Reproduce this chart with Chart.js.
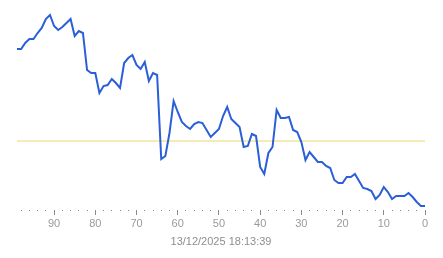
<!DOCTYPE html>
<html>
<head>
<meta charset="utf-8">
<script src="https://cdn.jsdelivr.net/npm/chart.js@4/dist/chart.umd.min.js"></script>
<style>
  body { margin: 0; background: #fff; }
</style>
</head>
<body>
<canvas id="chart" width="443" height="258"></canvas>
<script>
// seconds ago, oldest first
const seconds = [99, 98, 97, 96, 95, 94, 93, 92, 91, 90,
  89, 88, 87, 86, 85, 84, 83, 82, 81, 80,
  79, 78, 77, 76, 75, 74, 73, 72, 71, 70,
  69, 68, 67, 66, 65, 64, 63, 62, 61, 60,
  59, 58, 57, 56, 55, 54, 53, 52, 51, 50,
  49, 48, 47, 46, 45, 44, 43, 42, 41, 40,
  39, 38, 37, 36, 35, 34, 33, 32, 31, 30,
  29, 28, 27, 26, 25, 24, 23, 22, 21, 20,
  19, 18, 17, 16, 15, 14, 13, 12, 11, 10,
  9, 8, 7, 6, 5, 4, 3, 2, 1, 0];

const values = [161, 161, 167, 171, 171, 177, 182, 191, 195, 184,
  180, 183, 187, 191, 174, 179, 177, 140, 137, 137,
  117, 124, 125, 131, 127, 122, 147, 152, 155, 145,
  141, 148, 129, 137, 135, 51, 54, 77, 109, 98,
  88, 84, 81, 86, 88, 87, 80, 73, 77, 81,
  94, 103, 91, 87, 83, 63, 64, 76, 74, 43,
  36, 57, 63, 100, 92, 92, 93, 80, 78, 68,
  50, 58, 53, 48, 48, 44, 42, 30, 27, 27,
  33, 33, 36, 29, 22, 21, 19, 11, 15, 23,
  18, 11, 14, 14, 14, 17, 13, 8, 4, 4];

const threshold = 69;
const timestamp = '13/12/2025 18:13:39';

const points = seconds.map((s, i) => ({ x: s, y: values[i] }));
const refLine = [
  { x: seconds[0], y: threshold },
  { x: seconds[seconds.length - 1], y: threshold }
];

new Chart(document.getElementById('chart'), {
  type: 'line',
  data: {
    datasets: [
      {
        data: points,
        borderColor: '#2a5fd8',
        borderWidth: 2,
        pointRadius: 0,
        tension: 0
      },
      {
        data: refLine,
        borderColor: '#efd670',
        borderWidth: 1,
        pointRadius: 0
      }
    ]
  },
  options: {
    responsive: false,
    animation: false,
    layout: { padding: { left: 17, right: 18, top: 10, bottom: 0 } },
    plugins: {
      legend: { display: false },
      tooltip: { enabled: false }
    },
    scales: {
      x: {
        type: 'linear',
        reverse: true,
        min: 0,
        max: 99,
        border: { display: false },
        grid: {
          drawOnChartArea: false,
          tickLength: 5,
          tickColor: '#8a8a8a',
          tickBorderDash: ctx => (ctx.tick.value % 10 === 0 ? [] : [1, 10])
        },
        ticks: {
          stepSize: 2,
          includeBounds: false,
          autoSkip: false,
          maxRotation: 0,
          padding: 2,
          color: '#9a9a9a',
          font: { family: 'Liberation Sans', size: 11 },
          callback: v => (v % 10 === 0 ? String(v) : '')
        },
        title: {
          display: true,
          text: timestamp,
          color: '#8e8e8e',
          font: { family: 'Liberation Sans', size: 11 },
          padding: { top: 4, bottom: 9 }
        },
        afterFit: scale => { scale.height = 48; }
      },
      y: {
        display: false,
        min: 0,
        max: 200
      }
    }
  }
});
</script>
</body>
</html>
